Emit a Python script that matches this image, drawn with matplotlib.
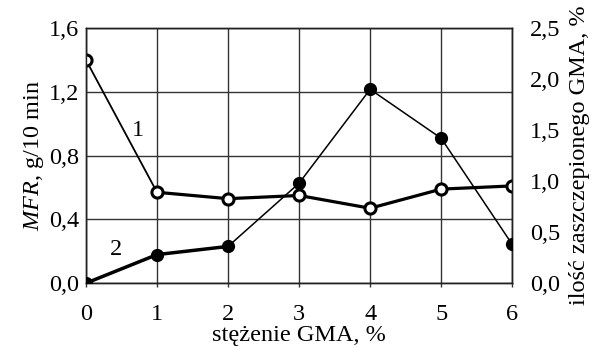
import matplotlib
matplotlib.use('Agg')
import matplotlib.pyplot as plt
import matplotlib.ticker as ticker

plt.rcParams['font.family'] = ['Liberation Serif', 'DejaVu Serif']
plt.rcParams['mathtext.fontset'] = 'custom'
plt.rcParams['mathtext.it'] = 'Liberation Serif:italic'
plt.rcParams['mathtext.rm'] = 'Liberation Serif'

# GMA concentration, %
gma_conc = [0, 1, 2, 3, 4, 5, 6]
# curve 1: melt flow rate, g/10 min (left axis)
mfr = [1.40, 0.57, 0.53, 0.55, 0.47, 0.59, 0.61]
# curve 2: grafted GMA amount, % (right axis)
grafted = [0.0, 0.28, 0.36, 0.98, 1.90, 1.42, 0.38]

left_ticks = [0.0, 0.4, 0.8, 1.2, 1.6]
right_ticks = [0.0, 0.5, 1.0, 1.5, 2.0, 2.5]


def comma(v, pos=None):
    return f'{v:.1f}'.replace('.', ',')


fig = plt.figure(figsize=(5.97, 3.47), dpi=100)
ax = fig.add_axes([0.144, 0.184, 0.714, 0.735])
ax2 = ax.twinx()

# curve 1 - thin first segment, heavier afterwards
ax.plot(gma_conc[:2], mfr[:2], color='black', lw=1.3, zorder=3)
ax.plot(gma_conc[1:], mfr[1:], color='black', lw=2.3, zorder=3)
ax.plot(gma_conc, mfr, ls='none', marker='o', ms=8, mfc='white',
        mec='black', mew=2.2, zorder=5)

# curve 2 - heavy up to 2 %, thin afterwards
ax2.plot(gma_conc[:3], grafted[:3], color='black', lw=2.5, zorder=3)
ax2.plot(gma_conc[2:], grafted[2:], color='black', lw=1.1, zorder=3)
ax2.plot(gma_conc, grafted, ls='none', marker='o', ms=8.5, mfc='black',
         mec='black', zorder=4)

ax.set_xlim(0, 6)
ax.set_ylim(0, 1.6)
ax2.set_ylim(0, 2.5)
ax.set_xticks(gma_conc)
ax.set_yticks(left_ticks)
ax2.set_yticks(right_ticks)
ax.yaxis.set_major_formatter(ticker.FuncFormatter(comma))
ax2.yaxis.set_major_formatter(ticker.FuncFormatter(comma))

ax.grid(True, color='#333333', lw=1.0)
ax.set_axisbelow(True)
for a in (ax, ax2):
    a.tick_params(length=0, labelsize=17.5)
    for s in a.spines.values():
        s.set_color('#222222')
        s.set_linewidth(1.0)
ax.tick_params(axis='x', length=3, width=1.0, color='#333333', pad=12)
ax.tick_params(axis='y', pad=5)
ax2.tick_params(axis='y', pad=13)

ax.set_xlabel('stężenie GMA, %', fontsize=17.5, va='baseline')
ax.xaxis.set_label_coords(0.5, -0.225)
ax.set_ylabel('$MFR$, g/10 min', fontsize=17.5, labelpad=2)
ax2.set_ylabel('ilość zaszczepionego GMA, %', fontsize=17.5, labelpad=6)

ax.text(0.73, 0.955, '1', fontsize=17.5, ha='center', va='center')
ax.text(0.42, 0.21, '2', fontsize=17.5, ha='center', va='center')

fig.savefig('out.png', dpi=100)
